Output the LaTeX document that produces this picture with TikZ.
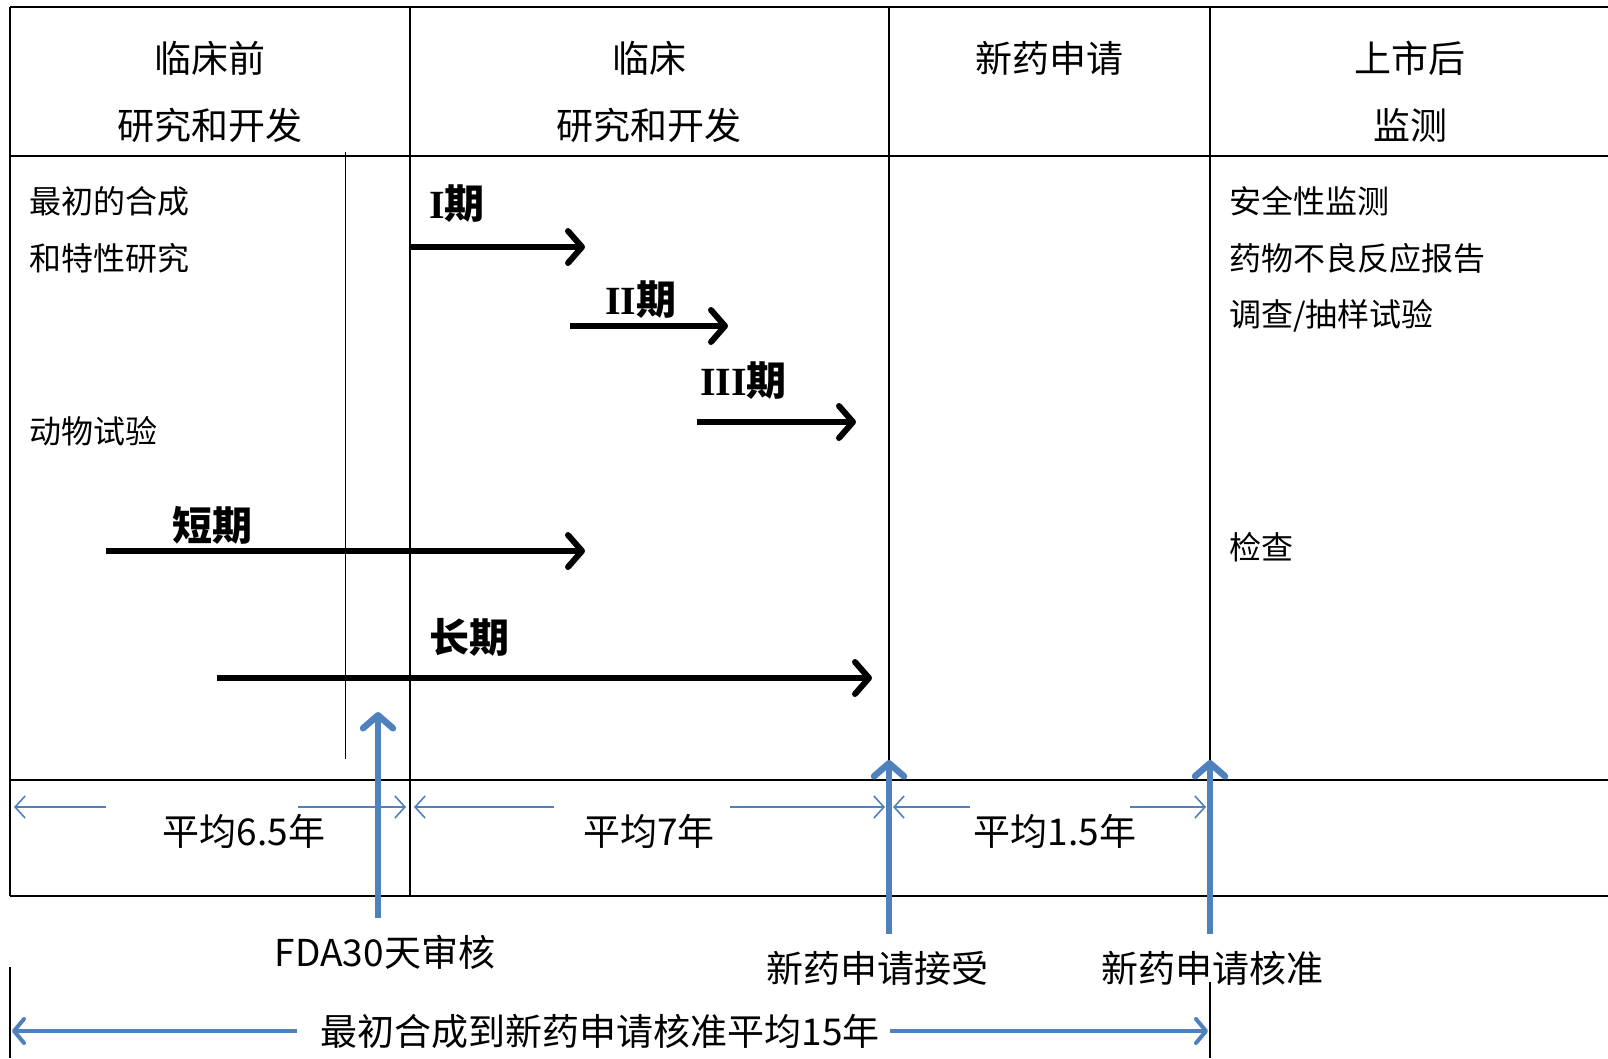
\documentclass[tikz,border=0pt]{standalone}
\usepackage{fontspec}
\setmainfont{Noto Sans CJK SC}
\newfontfamily\romanI{Liberation Serif}
\usetikzlibrary{arrows.meta}
\definecolor{ablue}{RGB}{79,129,189}
\newcommand{\rn}[1]{{\romanI\bfseries #1}}
\begin{document}
\begin{tikzpicture}[x=1pt,y=-1pt,
  gridline/.style={line width=2.6pt,black},
  thinline/.style={line width=1.8pt,black},
  hdr/.style={inner sep=0pt,font=\fontsize{37}{44}\selectfont},
  body/.style={inner sep=0pt,anchor=west,font=\fontsize{32}{38}\selectfont},
  phaselbl/.style={inner sep=0pt,anchor=west,font=\fontsize{40}{48}\selectfont\bfseries},
  phase/.style={line width=6pt,-{Straight Barb[length=14pt,width=32pt,round]}},
  milestone/.style={line width=6.5pt,ablue,-{Straight Barb[length=13pt,width=30pt,round]}},
  dur/.style={line width=1.6pt,ablue,-{Straight Barb[length=10pt,width=22pt]}},
  total/.style={line width=4pt,ablue,-{Straight Barb[length=10pt,width=24pt,round]}},
  lbl/.style={inner sep=0pt,font=\fontsize{37}{44}\selectfont}]
\useasboundingbox (0,0) rectangle (1608,1058);
\fill[white] (0,0) rectangle (1608,1058);

% grid
\draw[gridline] (10,7) -- (1608,7);
\draw[gridline] (10,156) -- (1608,156);
\draw[gridline] (10,780) -- (1608,780);
\draw[gridline] (10,896) -- (1608,896);
\draw[gridline] (10,7) -- (10,896);
\draw[gridline] (410,7) -- (410,896);
\draw[gridline] (889,7) -- (889,896);
\draw[gridline] (1210,7) -- (1210,896);
\draw[thinline] (345.5,152) -- (345.5,759);

% headers
\node[hdr] (h1a) at (210,58) {临床前};
\node[hdr] (h1b) at (210,125) {研究和开发};
\node[hdr] (h2a) at (649,58) {临床};
\node[hdr] (h2b) at (649,125) {研究和开发};
\node[hdr] (h3a) at (1049,58) {新药申请};
\node[hdr] (h4a) at (1410,58) {上市后};
\node[hdr] (h4b) at (1410,125) {监测};

% body texts
\node[body] (t1) at (29,201) {最初的合成};
\node[body] (t2) at (29,258) {和特性研究};
\node[body] (t3) at (29,431) {动物试验};
\node[body] (t4) at (1229,201) {安全性监测};
\node[body] (t5) at (1229,258) {药物不良反应报告};
\node[body] (t6) at (1229,316) {调查/抽样试验};
\node[body] (t7) at (1229,547) {检查};

% phase labels
\node[phaselbl] (p1) at (429,204) {\rn{I}期};
\node[phaselbl] (p2) at (605,300) {\rn{II}期};
\node[phaselbl] (p3) at (700,381) {\rn{III}期};
\node[phaselbl] (p4) at (172,525) {短期};
\node[phaselbl] (p5) at (429,637) {长期};

% phase arrows
\coordinate (a1s) at (410,247); \coordinate (a1e) at (585,247);
\coordinate (a2s) at (570,326); \coordinate (a2e) at (728,326);
\coordinate (a3s) at (697,422); \coordinate (a3e) at (856,422);
\coordinate (a4s) at (106,551); \coordinate (a4e) at (585,551);
\coordinate (a5s) at (217,678); \coordinate (a5e) at (872,678);
\draw[phase] (a1s) -- (a1e);
\draw[phase] (a2s) -- (a2e);
\draw[phase] (a3s) -- (a3e);
\draw[phase] (a4s) -- (a4e);
\draw[phase] (a5s) -- (a5e);

% duration arrows
\node[lbl] (d1) at (244,831) {平均6.5年};
\node[lbl] (d2) at (649,831) {平均7年};
\node[lbl] (d3) at (1055,831) {平均1.5年};
\coordinate (d1l) at (106,807); \coordinate (d1lt) at (14,807);
\coordinate (d1r) at (298,807); \coordinate (d1rt) at (406,807);
\coordinate (d2l) at (554,807); \coordinate (d2lt) at (414,807);
\coordinate (d2r) at (730,807); \coordinate (d2rt) at (885,807);
\coordinate (d3l) at (970,807); \coordinate (d3lt) at (893,807);
\coordinate (d3r) at (1130,807); \coordinate (d3rt) at (1206,807);
\draw[dur] (d1l) -- (d1lt);
\draw[dur] (d1r) -- (d1rt);
\draw[dur] (d2l) -- (d2lt);
\draw[dur] (d2r) -- (d2rt);
\draw[dur] (d3l) -- (d3lt);
\draw[dur] (d3r) -- (d3rt);

% milestone arrows
\coordinate (m1s) at (378,918); \coordinate (m1e) at (378,712);
\coordinate (m2s) at (889,934); \coordinate (m2e) at (889,760);
\coordinate (m3s) at (1210,934); \coordinate (m3e) at (1210,760);
\draw[milestone] (m1s) -- (m1e);
\draw[milestone] (m2s) -- (m2e);
\draw[milestone] (m3s) -- (m3e);

\node[lbl] (l1) at (385,952) {FDA30天审核};
\node[lbl] (l2) at (877,968) {新药申请接受};
\node[lbl] (l3) at (1212,968) {新药申请核准};

% total
\coordinate (v1t) at (10,967); \coordinate (v1b) at (10,1058);
\coordinate (v2t) at (1210,982); \coordinate (v2b) at (1210,1058);
\draw[line width=1.5pt] (v1t) -- (v1b);
\draw[line width=1.5pt] (v2t) -- (v2b);
\node[inner sep=0pt,font=\fontsize{37}{44}\selectfont] (tot) at (600,1031) {最初合成到新药申请核准平均15年};
\coordinate (tl) at (297,1031); \coordinate (tlt) at (12,1031);
\coordinate (tr) at (890,1031); \coordinate (trt) at (1208,1031);
\draw[total] (tl) -- (tlt);
\draw[total] (tr) -- (trt);
\end{tikzpicture}
\end{document}
